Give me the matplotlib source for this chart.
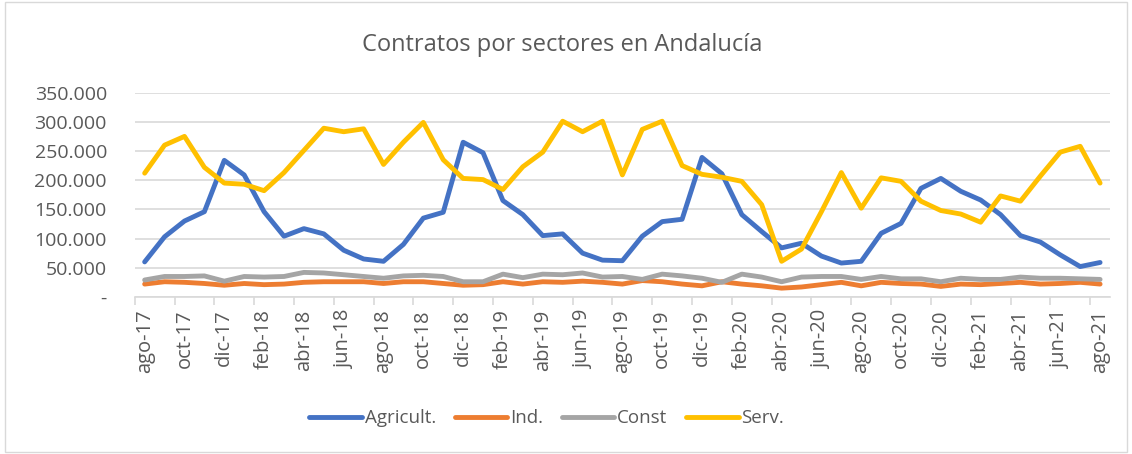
"""Contratos por sectores en Andalucía, ago-17 a ago-21."""
import matplotlib.pyplot as plt
from matplotlib.patches import Rectangle
from matplotlib.ticker import FuncFormatter, FixedLocator

plt.rcParams["font.family"] = ["Open Sans", "DejaVu Sans"]

MONTHS = ["ene", "feb", "mar", "abr", "may", "jun",
          "jul", "ago", "sep", "oct", "nov", "dic"]

# ago-17 .. ago-21 (49 months)
labels = []
for k in range(49):
    m = (7 + k) % 12
    y = 17 + (7 + k) // 12
    labels.append(f"{MONTHS[m]}-{y}")

agricult = [60000, 103000, 130000, 146000, 234000, 209000, 146000, 104000, 117000, 108000,
            80000, 65000, 61000, 90000, 135000, 145000, 265000, 247000, 165000, 141000,
            105000, 108000, 75000, 63000, 62000, 104000, 129000, 133000, 239000, 211000,
            141000, 112000, 84000, 92000, 70000, 58000, 61000, 109000, 126000, 186000,
            203000, 181000, 166000, 141000, 105000, 94000, 72000, 52000, 59000]
ind = [22000, 26000, 25000, 23000, 20000, 23000, 21000, 22000, 25000, 26000,
       26000, 26000, 23000, 26000, 26000, 23000, 20000, 21000, 26000, 22000,
       26000, 25000, 27000, 25000, 22000, 28000, 26000, 22000, 19000, 26000,
       22000, 19000, 15000, 17000, 21000, 25000, 19000, 25000, 23000, 22000,
       18000, 22000, 21000, 23000, 25000, 22000, 23000, 25000, 22000]
const = [29000, 35000, 35000, 36000, 27000, 35000, 34000, 35000, 42000, 41000,
         38000, 35000, 32000, 36000, 37000, 35000, 26000, 26000, 39000, 33000,
         39000, 38000, 41000, 34000, 35000, 30000, 39000, 36000, 32000, 25000,
         39000, 34000, 26000, 34000, 35000, 35000, 30000, 35000, 31000, 31000,
         26000, 32000, 30000, 30000, 34000, 32000, 32000, 31000, 30000]
serv = [212000, 260000, 275000, 222000, 195000, 193000, 182000, 213000, 251000, 289000,
        283000, 288000, 227000, 265000, 299000, 235000, 203000, 201000, 184000, 223000,
        248000, 301000, 283000, 301000, 209000, 287000, 301000, 225000, 210000, 205000,
        198000, 158000, 61000, 82000, 146000, 213000, 152000, 204000, 198000, 164000,
        148000, 142000, 128000, 173000, 164000, 207000, 248000, 258000, 195000]

SERIES = [("Agricult.", agricult, "#4472C4"),
          ("Ind.", ind, "#ED7D31"),
          ("Const", const, "#A5A5A5"),
          ("Serv.", serv, "#FFC000")]

TEXT = "#595959"
GRID = "#D9D9D9"


def thousands(v, _pos):
    if v == 0:
        return "-"
    return f"{int(v):,}".replace(",", ".")


fig = plt.figure(figsize=(11.32, 4.54), dpi=100)
ax = fig.add_axes([0.119, 0.346, 0.8616, 0.45])

x = list(range(len(labels)))
for name, vals, color in SERIES:
    ax.plot(x, vals, color=color, linewidth=3.5, label=name,
            solid_capstyle="round", solid_joinstyle="round")

ax.set_xlim(-0.5, len(labels) - 0.5)
ax.set_ylim(0, 350000)
ax.set_yticks(range(0, 350001, 50000))
ax.yaxis.set_major_formatter(FuncFormatter(thousands))
ax.grid(True, axis="y", color=GRID, linewidth=1.2)
ax.set_axisbelow(True)

# labels on every second month, tick marks on category boundaries
ax.set_xticks(x[::2])
ax.set_xticklabels(labels[::2], rotation=90)
ax.tick_params(axis="x", length=0, pad=9, labelsize=14.5, labelcolor=TEXT)
ax.xaxis.set_minor_locator(FixedLocator([i - 0.5 for i in x[::2]]))
ax.tick_params(axis="x", which="minor", length=6, color=GRID, width=1.2)
ax.tick_params(axis="y", length=0, pad=20, labelsize=14, labelcolor=TEXT)

for side in ["top", "right", "left"]:
    ax.spines[side].set_visible(False)
ax.spines["bottom"].set_color(GRID)
ax.spines["bottom"].set_linewidth(1.2)

fig.text(0.497, 0.90, "Contratos por sectores en Andalucía", ha="center",
         va="center", fontsize=17, color=TEXT)

fig.legend(loc="center", bbox_to_anchor=(0.483, 0.079), ncol=4, frameon=False,
           fontsize=13.5, labelcolor=TEXT, handlelength=2.8, handletextpad=0.15,
           columnspacing=1.0)

fig.patches.append(Rectangle((0.004, 0.004), 0.992, 0.992, transform=fig.transFigure,
                             fill=False, edgecolor=GRID, linewidth=1))

fig.savefig("out.png", dpi=100)
